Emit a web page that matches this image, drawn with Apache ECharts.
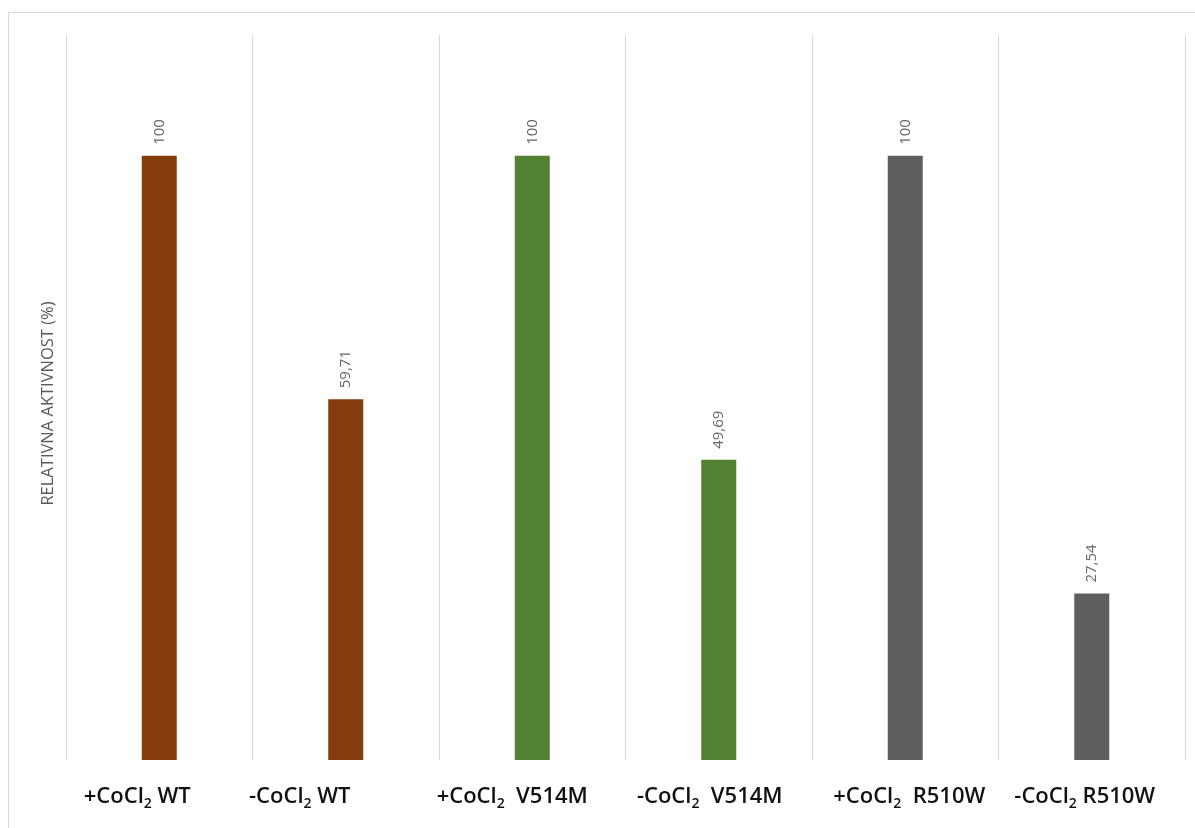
<!DOCTYPE html>
<html>
<head>
<meta charset="utf-8">
<script src="https://cdn.jsdelivr.net/npm/echarts@6/dist/echarts.min.js"></script>
<style>html,body{margin:0;padding:0;background:#fff}#c{width:1195px;height:828px}</style>
</head>
<body>
<div id="c"></div>
<script>
const categories = ['+CoCl2 WT', '-CoCl2 WT', '+CoCl2  V514M', '-CoCl2  V514M', '+CoCl2  R510W', '-CoCl2 R510W'];
const values = [100, 59.71, 100, 49.69, 100, 27.54];
const labels = ['100', '59,71', '100', '49,69', '100', '27,54'];
const colors = ['#843C0C', '#843C0C', '#548235', '#548235', '#5F5F5F', '#5F5F5F'];

// horizontal offset of each category label relative to its bar (layout only)
const labelShift = [-22, -46, -20, -9, 4, -7];

const rich = {
  m: {fontFamily: 'Open Sans', fontWeight: 600, fontSize: 22, color: '#111', lineHeight: 30, verticalAlign: 'middle'},
  s: {fontFamily: 'Open Sans', fontWeight: 600, fontSize: 14, color: '#111', lineHeight: 30, padding: [14, 0, 0, 0], verticalAlign: 'middle'}
};
labelShift.forEach((d, i) => { rich['g' + i] = {width: Math.abs(d) * 2, height: 1}; });

const chart = echarts.init(document.getElementById('c'));
chart.setOption({
  animation: false,
  graphic: [{
    type: 'rect', shape: {x: 8.5, y: 12.5, width: 1200, height: 900},
    style: {fill: 'none', stroke: '#D9D9D9', lineWidth: 1}, silent: true, z: -1
  }],
  grid: {left: 66, right: 10, top: 35, bottom: 68},
  xAxis: {
    type: 'category',
    data: categories,
    axisLine: {show: false},
    axisTick: {show: false},
    splitLine: {show: true, interval: 0, lineStyle: {color: '#D9D9D9', width: 1}},
    axisLabel: {
      interval: 0,
      margin: 22,
      formatter: (v, i) => {
        const t = '{m|' + v.replace('CoCl2', 'CoCl}{s|2}{m|') + '}';
        const g = '{g' + i + '|}';
        return labelShift[i] < 0 ? t + g : g + t;
      },
      rich: rich
    }
  },
  yAxis: {
    type: 'value', min: 0, max: 120,
    axisLabel: {show: false}, axisLine: {show: false}, axisTick: {show: false},
    splitLine: {show: false},
    name: 'RELATIVNA AKTIVNOST (%)', nameLocation: 'middle', nameGap: 9, nameRotate: 90,
    nameTextStyle: {color: '#595959', fontSize: 16.5, fontFamily: 'Open Sans', padding: [0, 12, 0, 0]}
  },
  series: [{
    type: 'bar',
    barWidth: 35,
    data: values.map((v, i) => ({value: v, itemStyle: {color: colors[i]}})),
    label: {
      show: true, position: 'top', rotate: 90, distance: 11,
      align: 'left', verticalAlign: 'middle',
      formatter: p => labels[p.dataIndex],
      color: '#666666', fontSize: 15, fontFamily: 'Open Sans'
    }
  }]
});
</script>
</body>
</html>
